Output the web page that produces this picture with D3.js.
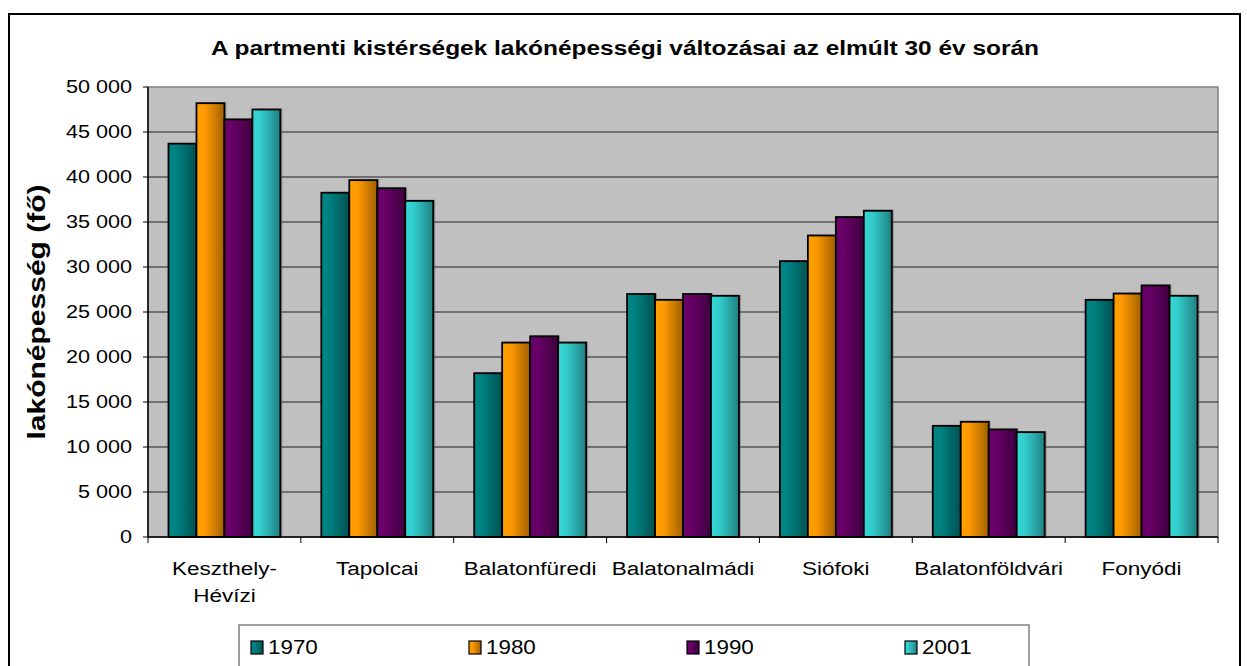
<!DOCTYPE html>
<html lang="hu">
<head>
  <meta charset="utf-8">
  <title>Lakónépesség</title>
  <script src="https://d3js.org/d3.v7.min.js"></script>
  <style>
    body { margin: 0; background: white; }
    text { font-family: Arial, "Liberation Sans", sans-serif; fill: black; }
    .title { font-size: 20px; font-weight: bold; text-anchor: middle; }
    .ytitle { font-size: 24px; font-weight: bold; text-anchor: middle; }
    .tick-y { font-size: 18px; text-anchor: end; }
    .tick-x { font-size: 18px; text-anchor: middle; }
    .leg-t { font-size: 20px; }
  </style>
</head>
<body>
  <div id="chart"></div>
  <script>
    // adatok
    var categories = [['Keszthely-', 'Hévízi'], ['Tapolcai'], ['Balatonfüredi'], ['Balatonalmádi'],
      ['Siófoki'], ['Balatonföldvári'], ['Fonyódi']];
    var years = ['1970', '1980', '1990', '2001'];
    var v1970 = [43700, 38250, 18200, 27000, 30650, 12350, 26350];
    var v1980 = [48200, 39650, 21600, 26350, 33500, 12800, 27050];
    var v1990 = [46400, 38750, 22300, 27000, 35550, 11950, 27950];
    var v2001 = [47500, 37350, 21600, 26800, 36250, 11650, 26800];
    var yTicks = [0, 5000, 10000, 15000, 20000, 25000, 30000, 35000, 40000, 45000, 50000];
    var colors = ['#008080', '#FF9900', '#660066', '#33CCCC'];

    var series = [v1970, v1980, v1990, v2001];
    var W = 1247, H = 666;
    var pLeft = 148, pRight = 1218, pTop = 87, pBottom = 537;

    var svg = d3.select('#chart').append('svg')
      .attr('width', W)
      .attr('height', H);

    // szöveg vízszintes nyújtása (a minta betűi szélesebbek)
    function stretch(sel, k) {
      sel.each(function () {
        var len = this.getComputedTextLength();
        d3.select(this).attr('textLength', len * k).attr('lengthAdjust', 'spacingAndGlyphs');
      });
    }

    // gradiensek (világos bal oldal, sötét jobb oldal)
    var defs = svg.append('defs');
    colors.forEach(function (c, i) {
      var g = defs.append('linearGradient').attr('id', 'g' + i)
        .attr('x1', '0').attr('x2', '1').attr('y1', '0').attr('y2', '0');
      var base = d3.color(c);
      g.append('stop').attr('offset', '0').attr('stop-color', base.brighter(0.15));
      g.append('stop').attr('offset', '0.3').attr('stop-color', base);
      g.append('stop').attr('offset', '1').attr('stop-color', base.darker(1.3));
    });

    // külső keret
    svg.append('rect')
      .attr('x', 9).attr('y', 14)
      .attr('width', 1231).attr('height', 700)
      .attr('fill', 'white').attr('stroke', 'black').attr('stroke-width', 2);

    var x0 = d3.scaleBand()
      .domain(d3.range(categories.length))
      .range([pLeft, pRight])
      .paddingInner(0.268).paddingOuter(0.134);
    var x1 = d3.scaleBand()
      .domain(d3.range(years.length))
      .range([0, x0.bandwidth()]);
    var y = d3.scaleLinear().domain([0, 50000]).range([pBottom, pTop]);

    // rajzterület
    svg.append('rect')
      .attr('x', pLeft).attr('y', pTop)
      .attr('width', pRight - pLeft).attr('height', pBottom - pTop)
      .attr('fill', '#C0C0C0').attr('stroke', '#808080').attr('stroke-width', 1.5);

    svg.selectAll('line.grid')
      .data(yTicks.slice(1, -1))
      .enter().append('line')
      .attr('class', 'grid')
      .attr('x1', pLeft).attr('x2', pRight)
      .attr('y1', function (d) { return y(d); })
      .attr('y2', function (d) { return y(d); })
      .attr('stroke', '#222').attr('stroke-width', 1.2);

    // oszlopok
    var groups = svg.selectAll('g.cat')
      .data(categories)
      .enter().append('g')
      .attr('class', 'cat')
      .attr('transform', function (d, i) { return 'translate(' + x0(i) + ',0)'; });

    function rows(d, i) {
      return series.map(function (s, j) { return { j: j, v: s[i] }; });
    }

    groups.selectAll('rect.shadow')
      .data(rows)
      .enter().append('rect')
      .attr('class', 'shadow')
      .attr('x', function (d) { return x1(d.j) + 2; })
      .attr('y', function (d) { return y(d.v) - 1; })
      .attr('width', x1.bandwidth())
      .attr('height', function (d) { return pBottom - y(d.v) + 1; })
      .attr('fill', '#666').attr('opacity', 0.5);

    groups.selectAll('rect.bar')
      .data(rows)
      .enter().append('rect')
      .attr('class', 'bar')
      .attr('x', function (d) { return x1(d.j); })
      .attr('y', function (d) { return y(d.v); })
      .attr('width', x1.bandwidth())
      .attr('height', function (d) { return pBottom - y(d.v); })
      .attr('fill', function (d) { return 'url(#g' + d.j + ')'; })
      .attr('stroke', 'black').attr('stroke-width', 1.8);

    // tengelyek
    svg.append('line')
      .attr('x1', pLeft).attr('x2', pLeft).attr('y1', pTop).attr('y2', pBottom)
      .attr('stroke', 'black').attr('stroke-width', 1.5);
    svg.append('line')
      .attr('x1', pLeft).attr('x2', pRight).attr('y1', pBottom).attr('y2', pBottom)
      .attr('stroke', 'black').attr('stroke-width', 1.5);

    svg.selectAll('line.ytick')
      .data(yTicks)
      .enter().append('line')
      .attr('x1', pLeft - 5).attr('x2', pLeft)
      .attr('y1', function (d) { return y(d); })
      .attr('y2', function (d) { return y(d); })
      .attr('stroke', 'black');

    var yl = svg.selectAll('text.tick-y')
      .data(yTicks)
      .enter().append('text')
      .attr('class', 'tick-y')
      .attr('x', 132)
      .attr('y', function (d) { return y(d); })
      .attr('dy', '0.36em')
      .text(function (d) {
        return d === 0 ? '0' : d3.format(',')(d).replace(/,/g, ' ');
      });
    stretch(yl, 1.2);

    var xTicks = d3.range(categories.length + 1).map(function (i) {
      return pLeft + i * (pRight - pLeft) / categories.length;
    });
    svg.selectAll('line.xtick')
      .data(xTicks)
      .enter().append('line')
      .attr('x1', function (d) { return d; }).attr('x2', function (d) { return d; })
      .attr('y1', pBottom).attr('y2', pBottom + 6)
      .attr('stroke', 'black');

    var xLabels = [];
    categories.forEach(function (c, i) {
      c.forEach(function (line, k) { xLabels.push({ i: i, k: k, t: line }); });
    });
    var xl = svg.selectAll('text.tick-x')
      .data(xLabels)
      .enter().append('text')
      .attr('class', 'tick-x')
      .attr('x', function (d) { return x0(d.i) + x0.bandwidth() / 2; })
      .attr('y', function (d) { return 575 + d.k * 27; })
      .text(function (d) { return d.t; });
    stretch(xl, 1.25);

    // címek
    var title = svg.append('text')
      .attr('class', 'title')
      .attr('x', 625).attr('y', 55)
      .text('A partmenti kistérségek lakónépességi változásai az elmúlt 30 év során');
    title.attr('textLength', 828).attr('lengthAdjust', 'spacingAndGlyphs');

    svg.append('text')
      .attr('class', 'ytitle')
      .attr('transform', 'translate(45,' + ((pTop + pBottom) / 2) + ') rotate(-90)')
      .attr('textLength', 255).attr('lengthAdjust', 'spacingAndGlyphs')
      .text('lakónépesség (fő)');

    // jelmagyarázat
    svg.append('rect')
      .attr('x', 239).attr('y', 625)
      .attr('width', 790).attr('height', 80)
      .attr('fill', 'white').attr('stroke', '#808080').attr('stroke-width', 1.5);

    var leg = svg.selectAll('g.leg')
      .data(years)
      .enter().append('g')
      .attr('class', 'leg')
      .attr('transform', function (d, i) { return 'translate(' + (273 + i * 218) + ',647)'; });
    leg.append('rect')
      .attr('x', -22).attr('y', -6)
      .attr('width', 12).attr('height', 13)
      .attr('fill', function (d, i) { return 'url(#g' + i + ')'; })
      .attr('stroke', 'black').attr('stroke-width', 1.2);
    var lt = leg.append('text')
      .attr('class', 'leg-t')
      .attr('x', -5).attr('dy', '0.36em')
      .text(function (d) { return d; });
    stretch(lt, 1.12);
  </script>
</body>
</html>
